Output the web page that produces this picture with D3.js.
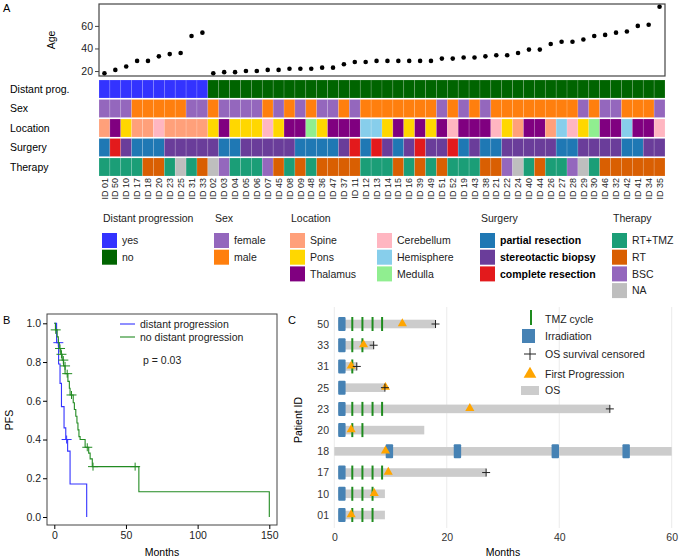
<!DOCTYPE html>
<html>
<head>
<meta charset="utf-8">
<script src="https://cdn.jsdelivr.net/npm/d3@7"></script>
<style>
  body { margin: 0; background: #fff; }
  svg { font-family: "Liberation Sans", Arial, sans-serif; }
</style>
</head>
<body>
<div id="chart"></div>
<script>
// ---- Panel A data (one entry per patient column) ----
const ids = ['01','50','10','17','18','20','23','25','31','33',
  '02','03','04','05','06','07','45','08','09','48','36','47','37','11','12','13','14','15','16',
  '39','49','51','52','19','43','38','21','22','24','40','44','26','27','28','29','30','46','32','42','41','34','35'];
const ages = [18,21,24,29,29,33,35,36,51,54,
  18,19,19,20,20,21,21,22,22,22,23,23,26,28,28,29,29,29,29,29,29,31,31,32,32,33,34,34,36,39,39,
  44,46,46,48,51,52,54,55,60,61,77];
const distant = ['yes','yes','yes','yes','yes','yes','yes','yes','yes','yes',
  'no','no','no','no','no','no','no','no','no','no','no','no','no','no','no','no','no','no','no','no','no',
  'no','no','no','no','no','no','no','no','no','no','no','no','no','no','no','no','no','no','no','no','no'];
const sex = ['female','female','female','male','male','male','male','male','female','female',
  'male','female','female','female','female','male','female','male','female','male','female','female',
  'male','female','male','male','male','male','male','male','male','female','male','female','male','female',
  'male','male','male','male','male','male','male','male','female','male','female','female','male','male','male','female'];
const tumorLocation = ['Spine','Thalamus','Pons','Spine','Spine','Cerebellum','Spine','Spine','Spine','Spine',
  'Pons','Thalamus','Pons','Pons','Pons','Cerebellum','Pons','Thalamus','Thalamus','Medulla','Pons','Thalamus',
  'Thalamus','Thalamus','Hemisphere','Hemisphere','Pons','Thalamus','Pons','Thalamus','Pons','Thalamus','Cerebellum',
  'Thalamus','Thalamus','Thalamus','Cerebellum','Pons','Spine','Thalamus','Thalamus','Spine','Hemisphere','Cerebellum',
  'Pons','Medulla','Thalamus','Thalamus','Hemisphere','Thalamus','Thalamus','Cerebellum'];
const surgery = ['partial resection','complete resection','stereotactic biopsy','partial resection','partial resection',
  'partial resection','stereotactic biopsy','stereotactic biopsy','stereotactic biopsy','stereotactic biopsy',
  'stereotactic biopsy','partial resection','partial resection','stereotactic biopsy','stereotactic biopsy',
  'stereotactic biopsy','stereotactic biopsy','stereotactic biopsy','partial resection','partial resection',
  'partial resection','partial resection','stereotactic biopsy','complete resection','partial resection',
  'complete resection','stereotactic biopsy','partial resection','stereotactic biopsy','complete resection',
  'stereotactic biopsy','stereotactic biopsy','complete resection','partial resection','stereotactic biopsy',
  'partial resection','partial resection','stereotactic biopsy','stereotactic biopsy','stereotactic biopsy',
  'stereotactic biopsy','stereotactic biopsy','partial resection','partial resection','stereotactic biopsy',
  'stereotactic biopsy','stereotactic biopsy','stereotactic biopsy','partial resection','partial resection',
  'stereotactic biopsy','stereotactic biopsy'];
const therapy = ['RT+TMZ','RT+TMZ','RT+TMZ','RT+TMZ','RT','RT','RT+TMZ','NA','RT+TMZ','RT',
  'NA','BSC','RT+TMZ','RT+TMZ','RT+TMZ','BSC','RT','RT+TMZ','RT','RT+TMZ','RT','RT','RT','RT',
  'RT+TMZ','RT+TMZ','RT+TMZ','RT','RT+TMZ','RT','RT+TMZ','RT','RT+TMZ','RT+TMZ','RT+TMZ','RT','RT',
  'BSC','NA','RT+TMZ','RT','RT+TMZ','RT+TMZ','BSC','NA','RT+TMZ','RT','RT','RT','RT','RT','RT'];

const rowNames = ['Distant prog.', 'Sex', 'Location', 'Surgery', 'Therapy'];
const legendGroups = [
  { title: 'Distant progression', keys: ['yes','no'], colors: ['#3333ff','#006400'] },
  { title: 'Sex', keys: ['female','male'], colors: ['#9467bd','#ff7f0e'] },
  { title: 'Location', keys: ['Spine','Pons','Thalamus'], colors: ['#ffa07a','#ffd700','#800080'] },
  { title: '', keys: ['Cerebellum','Hemisphere','Medulla'], colors: ['#ffb6c1','#87ceeb','#90ee90'] },
  { title: 'Surgery', keys: ['partial resection','stereotactic biopsy','complete resection'], colors: ['#1f78b4','#6a3d9a','#e31a1c'] },
  { title: 'Therapy', keys: ['RT+TMZ','RT','BSC','NA'], colors: ['#1b9e77','#d95f02','#9467bd','#bebebe'] }
];

// ---- Panel B data (Kaplan-Meier steps) ----
const blueTimes = [0, 1.6, 3, 4, 5, 6.8, 8, 9.3, 11, 22.6];
const blueSurv  = [1, 0.9, 0.79, 0.69, 0.57, 0.46, 0.40, 0.34, 0.17, 0];
const blueCens  = [[2.8, 0.9], [8.6, 0.40]];
const greenTimes = [0, 0.8, 2, 2.8, 3.5, 4.5, 5.5, 6.5, 7.5, 9.5, 10.5, 11, 13.2, 14, 15, 15.8, 16.5, 17.2, 18, 21.5, 24, 25, 26.5, 59, 150];
const greenSurv  = [1, 0.966, 0.93, 0.90, 0.87, 0.84, 0.81, 0.78, 0.74, 0.70, 0.665, 0.63, 0.59, 0.555, 0.52, 0.485, 0.45, 0.415, 0.40, 0.36, 0.33, 0.30, 0.26, 0.13, 0];
const greenCens  = [[1, 0.966], [4, 0.87], [5, 0.84], [6.3, 0.81], [7.5, 0.78], [9, 0.74], [12, 0.63], [23, 0.36], [27, 0.26], [56.4, 0.26]];

// ---- Panel C data ----
const patients  = ['50','33','31','25','23','20','18','17','10','01'];
const osStart   = [0.7, 0.7, 0.7, 0.7, 0.7, 0.7, 0, 0.7, 0.7, 0.7];
const osMonths  = [18, 7, 4, 9, 49, 16, 60, 27, 9, 9];
const censored  = [true, true, true, true, true, false, false, true, false, false];
const firstProg = [12.1, 5.2, 3, 9.1, 24.1, 3, 9.1, 9.6, 7.1, 3];
const tmzCount  = [4, 2, 1, 0, 4, 2, 0, 4, 3, 3];
const tmzTimes  = [3.2, 5, 6.8, 8.5];
const irradiation = [[1.35], [1.35], [1.35], [1.35], [1.35], [1.35], [9.8, 21.9, 39.3, 51.9], [1.35], [1.35], [1.35]];

const W = 681, H = 560;
const svg = d3.select('#chart').append('svg').attr('width', W).attr('height', H);

// ================= Panel A =================
const colX = d3.scaleBand().domain(ids).range([99, 665]);
const ageY = d3.scaleLinear().domain([15.6, 79.4]).range([76, 4]);

svg.append('text').attr('x', 3).attr('y', 12).attr('font-size', 11).text('A');

svg.append('rect').attr('x', 99).attr('y', 4).attr('width', 566).attr('height', 72)
  .attr('fill', 'none').attr('stroke', '#444').attr('stroke-width', 1.2);
const ageAxis = svg.append('g').attr('transform', 'translate(99,0)')
  .call(d3.axisLeft(ageY).tickValues([20, 40, 60]).tickSize(4).tickPadding(2));
ageAxis.select('.domain').remove();
ageAxis.selectAll('text').attr('font-size', 10.5).attr('fill', '#222');
ageAxis.selectAll('line').attr('stroke', '#444');
svg.append('text').attr('transform', 'translate(55,40) rotate(-90)').attr('text-anchor', 'middle')
  .attr('font-size', 10.5).text('Age');

svg.append('g').selectAll('circle').data(ids).join('circle')
  .attr('cx', (d) => colX(d) + colX.bandwidth() / 2)
  .attr('cy', (d, i) => ageY(ages[i]))
  .attr('r', 2.3).attr('fill', '#000');

const rowY = [80, 99.5, 119, 138.5, 158];
const rowH = 18;
const rowData = [distant, sex, tumorLocation, surgery, therapy];
const rowLegend = [0, 1, null, 4, 5];
const colorFor = (r, v) => {
  if (r === 2) {
    const g = [legendGroups[2], legendGroups[3]].find((g) => g.keys.includes(v));
    return g.colors[g.keys.indexOf(v)];
  }
  const g = legendGroups[rowLegend[r]];
  return g.colors[g.keys.indexOf(v)];
};

rowData.forEach((vals, r) => {
  svg.append('text').attr('x', 10).attr('y', rowY[r] + rowH / 2).attr('dy', '0.35em')
    .attr('font-size', 10.5).text(rowNames[r]);
  svg.append('g').selectAll('rect').data(ids).join('rect')
    .attr('x', (d) => colX(d)).attr('y', rowY[r])
    .attr('width', colX.bandwidth()).attr('height', rowH)
    .attr('fill', (d, i) => colorFor(r, vals[i]))
    .attr('stroke', 'rgba(255,255,255,0.25)').attr('stroke-width', 0.6);
});

svg.append('g').selectAll('text').data(ids).join('text')
  .attr('transform', (d) => `translate(${colX(d) + colX.bandwidth() / 2},178) rotate(-90)`)
  .attr('text-anchor', 'end').attr('dy', '0.35em').attr('font-size', 9).attr('fill', '#222')
  .text((d) => 'ID ' + d);

// legend
const legX = [102, 214, 290, 377, 480, 612];
legendGroups.forEach((g, gi) => {
  const lg = svg.append('g').attr('transform', `translate(${legX[gi]},0)`);
  if (g.title) lg.append('text').attr('x', 1).attr('y', 222).attr('font-size', 10.5).attr('fill', '#222').text(g.title);
  g.keys.forEach((k, ki) => {
    const y = 233 + ki * 16.7;
    lg.append('rect').attr('x', 0).attr('y', y).attr('width', 15).attr('height', 15).attr('fill', g.colors[ki]);
    lg.append('text').attr('x', 20).attr('y', y + 7.5).attr('dy', '0.35em').attr('font-size', 10.5)
      .attr('font-weight', gi === 4 ? 'bold' : 'normal').attr('fill', gi === 4 ? '#000' : '#222').text(k);
  });
});

// ================= Panel B =================
const bx = d3.scaleLinear().domain([0, 150]).range([54.3, 269.3]);
const by = d3.scaleLinear().domain([0, 1]).range([517, 323.3]);
svg.append('text').attr('x', 3).attr('y', 324).attr('font-size', 11).text('B');
svg.append('rect').attr('x', 47).attr('y', 314).attr('width', 230).attr('height', 211)
  .attr('fill', 'none').attr('stroke', '#444').attr('stroke-width', 1);
const bAxisL = svg.append('g').attr('transform', 'translate(47,0)')
  .call(d3.axisLeft(by).tickValues([0, 0.2, 0.4, 0.6, 0.8, 1]).tickFormat(d3.format('.1f')).tickSize(4).tickPadding(2));
bAxisL.select('.domain').remove();
bAxisL.selectAll('text').attr('font-size', 10.5).attr('fill', '#222');
const bAxisB = svg.append('g').attr('transform', 'translate(0,525)')
  .call(d3.axisBottom(bx).tickValues([0, 50, 100, 150]).tickSize(4).tickPadding(3));
bAxisB.select('.domain').remove();
bAxisB.selectAll('text').attr('font-size', 10.5).attr('fill', '#222');
svg.append('text').attr('x', 162).attr('y', 556).attr('text-anchor', 'middle').attr('font-size', 10.5).text('Months');
svg.append('text').attr('transform', 'translate(13,420) rotate(-90)').attr('text-anchor', 'middle')
  .attr('font-size', 10.5).text('PFS');

const stepLine = d3.line().curve(d3.curveStepAfter).x((d) => bx(d[0])).y((d) => by(d[1]));
const kmCurves = [
  { times: blueTimes, surv: blueSurv, cens: blueCens, color: '#3333ff' },
  { times: greenTimes, surv: greenSurv, cens: greenCens, color: '#228b22' }
];
kmCurves.forEach((c) => {
  svg.append('path').datum(c.times.map((t, i) => [t, c.surv[i]]))
    .attr('d', stepLine).attr('fill', 'none').attr('stroke', c.color).attr('stroke-width', 1.1);
  c.cens.forEach(([t, s]) => {
    svg.append('path').attr('d', `M${bx(t) - 5},${by(s)}h10M${bx(t)},${by(s) - 4}v8`)
      .attr('stroke', c.color).attr('stroke-width', 1);
  });
});
[['distant progression', '#3333ff'], ['no distant progression', '#228b22']].forEach(([lab, col], i) => {
  const y = 324 + i * 13;
  svg.append('line').attr('x1', 120).attr('x2', 135).attr('y1', y).attr('y2', y).attr('stroke', col).attr('stroke-width', 1.1);
  svg.append('text').attr('x', 140).attr('y', y).attr('dy', '0.35em').attr('font-size', 10.5).attr('fill', '#222').text(lab);
});
svg.append('text').attr('x', 143).attr('y', 360).attr('dy', '0.35em').attr('font-size', 10.5).attr('fill', '#222').text('p = 0.03');

// ================= Panel C =================
const cx = d3.scaleLinear().domain([0, 60]).range([334.3, 671.7]);
const cy = d3.scalePoint().domain(patients).range([324, 515]);
svg.append('text').attr('x', 288).attr('y', 324).attr('font-size', 11).text('C');

svg.append('g').selectAll('line').data([0, 20, 40, 60]).join('line')
  .attr('x1', (d) => cx(d)).attr('x2', (d) => cx(d)).attr('y1', 307).attr('y2', 528)
  .attr('stroke', '#ebebeb').attr('stroke-width', 1);

const cAxisB = svg.append('g').attr('transform', 'translate(0,530)')
  .call(d3.axisBottom(cx).tickValues([0, 20, 40, 60]).tickSize(0).tickPadding(4));
cAxisB.select('.domain').remove();
cAxisB.selectAll('text').attr('font-size', 10.5).attr('fill', '#333');
const cAxisL = svg.append('g').attr('transform', 'translate(332,0)')
  .call(d3.axisLeft(cy).tickSize(0).tickPadding(3));
cAxisL.select('.domain').remove();
cAxisL.selectAll('text').attr('font-size', 10.5).attr('fill', '#333');
svg.append('text').attr('x', 503).attr('y', 556).attr('text-anchor', 'middle').attr('font-size', 10.5).text('Months');
svg.append('text').attr('transform', 'translate(302,420) rotate(-90)').attr('text-anchor', 'middle')
  .attr('font-size', 10.5).text('Patient ID');

patients.forEach((p, i) => {
  const y = cy(p);
  const g = svg.append('g');
  g.append('rect').attr('x', cx(osStart[i])).attr('y', y - 4.3)
    .attr('width', Math.min(cx(osMonths[i]), 680) - cx(osStart[i])).attr('height', 8.6).attr('fill', '#cccccc');
  irradiation[i].forEach((t) => {
    g.append('rect').attr('x', cx(t) - 3.7).attr('y', y - 7).attr('width', 7.4).attr('height', 14)
      .attr('rx', 1).attr('fill', '#4682b4');
  });
  tmzTimes.slice(0, tmzCount[i]).forEach((t) => {
    g.append('line').attr('x1', cx(t)).attr('x2', cx(t)).attr('y1', y - 7).attr('y2', y + 7)
      .attr('stroke', '#1e8b1e').attr('stroke-width', 2);
  });
  g.append('path').attr('d', d3.symbol(d3.symbolTriangle, 36)())
    .attr('transform', `translate(${cx(firstProg[i])},${y - 0.5})`).attr('fill', '#ffa500');
  if (censored[i]) {
    g.append('path').attr('d', `M${cx(osMonths[i]) - 4},${y}h8M${cx(osMonths[i])},${y - 4}v8`)
      .attr('stroke', '#222').attr('stroke-width', 1);
  }
});

// panel C legend
const cLeg = svg.append('g');
const cLegLabels = ['TMZ cycle', 'Irradiation', 'OS survival censored', 'First Progression', 'OS'];
const cLegY = [319, 336, 354, 374, 390];
cLeg.append('line').attr('x1', 531).attr('x2', 531).attr('y1', 310).attr('y2', 325).attr('stroke', '#1e8b1e').attr('stroke-width', 2);
cLeg.append('rect').attr('x', 522).attr('y', 329).attr('width', 13).attr('height', 14).attr('fill', '#4682b4');
cLeg.append('path').attr('d', 'M524,354h12M530,348v12').attr('stroke', '#222').attr('stroke-width', 1);
cLeg.append('path').attr('d', d3.symbol(d3.symbolTriangle, 70)()).attr('transform', 'translate(530,374)').attr('fill', '#ffa500');
cLeg.append('rect').attr('x', 521).attr('y', 386).attr('width', 18).attr('height', 9).attr('fill', '#cccccc');
cLegLabels.forEach((lab, i) => {
  cLeg.append('text').attr('x', 545).attr('y', cLegY[i]).attr('dy', '0.35em').attr('font-size', 10.5).attr('fill', '#222').text(lab);
});
</script>
</body>
</html>
